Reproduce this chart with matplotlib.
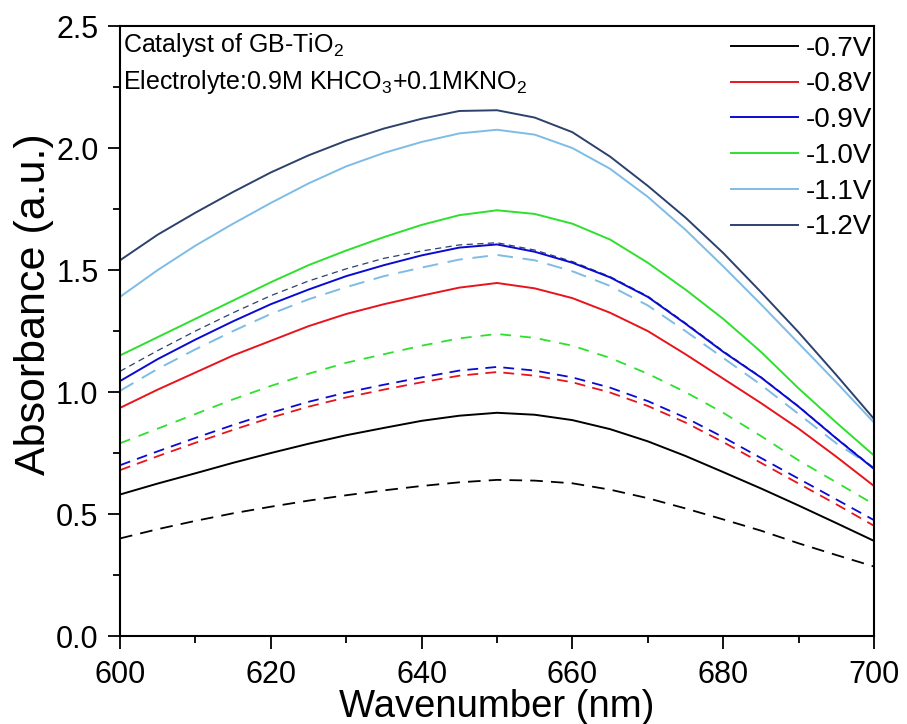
import numpy as np
import matplotlib
matplotlib.use('Agg')
import matplotlib.pyplot as plt
from matplotlib.ticker import MultipleLocator

plt.rcParams['font.family'] = ['Liberation Sans', 'DejaVu Sans']
plt.rcParams['mathtext.fontset'] = 'custom'
plt.rcParams['mathtext.rm'] = 'Liberation Sans'

# wavelength grid (nm)
wl = np.arange(600, 701, 5)

labels = ['-0.7V', '-0.8V', '-0.9V', '-1.0V', '-1.1V', '-1.2V']
colors = ['#000000', '#e8141c', '#0a0ad2', '#2ee02e', '#7ebce6', '#2c416c']

# solid spectra
solid_07 = [0.58, 0.625, 0.667, 0.71, 0.75, 0.788, 0.823, 0.853, 0.882, 0.903, 0.915,
            0.907, 0.885, 0.848, 0.798, 0.738, 0.672, 0.605, 0.535, 0.463, 0.39]
solid_08 = [0.935, 1.01, 1.08, 1.15, 1.21, 1.27, 1.32, 1.36, 1.395, 1.428, 1.447,
            1.425, 1.385, 1.325, 1.25, 1.155, 1.055, 0.955, 0.85, 0.735, 0.615]
solid_09 = [1.045, 1.135, 1.215, 1.29, 1.36, 1.42, 1.475, 1.52, 1.56, 1.592, 1.605,
            1.575, 1.53, 1.47, 1.39, 1.28, 1.165, 1.06, 0.94, 0.81, 0.685]
solid_10 = [1.15, 1.225, 1.30, 1.375, 1.45, 1.52, 1.58, 1.635, 1.685, 1.725, 1.745,
            1.73, 1.69, 1.625, 1.53, 1.42, 1.30, 1.165, 1.015, 0.875, 0.74]
solid_11 = [1.39, 1.50, 1.60, 1.69, 1.775, 1.855, 1.925, 1.98, 2.025, 2.06, 2.075,
            2.055, 2.00, 1.915, 1.80, 1.665, 1.515, 1.36, 1.20, 1.04, 0.875]
solid_12 = [1.54, 1.645, 1.735, 1.82, 1.90, 1.97, 2.03, 2.08, 2.12, 2.152, 2.155,
            2.125, 2.065, 1.965, 1.845, 1.715, 1.57, 1.41, 1.245, 1.07, 0.89]

# dashed spectra
dash_07 = [0.40, 0.438, 0.472, 0.503, 0.53, 0.555, 0.577, 0.597, 0.615, 0.63, 0.64,
           0.637, 0.626, 0.60, 0.565, 0.523, 0.478, 0.432, 0.38, 0.332, 0.285]
dash_08 = [0.68, 0.737, 0.792, 0.845, 0.895, 0.94, 0.978, 1.01, 1.04, 1.067, 1.082,
           1.067, 1.04, 0.998, 0.943, 0.875, 0.795, 0.71, 0.625, 0.54, 0.452]
dash_09 = [0.70, 0.757, 0.812, 0.865, 0.915, 0.96, 0.998, 1.03, 1.06, 1.088, 1.103,
           1.088, 1.06, 1.018, 0.963, 0.895, 0.815, 0.73, 0.645, 0.56, 0.475]
dash_10 = [0.79, 0.85, 0.91, 0.97, 1.025, 1.075, 1.12, 1.155, 1.19, 1.22, 1.238,
           1.222, 1.19, 1.14, 1.075, 1.00, 0.915, 0.82, 0.72, 0.63, 0.54]
dash_11 = [1.005, 1.095, 1.175, 1.25, 1.32, 1.38, 1.43, 1.475, 1.51, 1.543, 1.562,
           1.54, 1.495, 1.435, 1.355, 1.25, 1.14, 1.03, 0.91, 0.79, 0.69]
dash_12 = [1.085, 1.17, 1.25, 1.325, 1.395, 1.455, 1.505, 1.548, 1.578, 1.603, 1.612,
           1.582, 1.535, 1.473, 1.393, 1.283, 1.168, 1.062, 0.942, 0.812, 0.688]

solids = [solid_07, solid_08, solid_09, solid_10, solid_11, solid_12]
dashes = [dash_07, dash_08, dash_09, dash_10, dash_11, dash_12]
dash_styles = [(7, 4.5), (6, 4), (6, 4), (6, 5), (8, 5), (5, 3.5)]
dash_lw = [1.3, 1.3, 1.3, 1.3, 1.4, 0.9]

fig = plt.figure(figsize=(9.07, 7.24), dpi=100)
ax = fig.add_axes([0.1323, 0.1215, 0.8313, 0.8425])

for i in range(6):
    ax.plot(wl, dashes[i], color=colors[i], lw=dash_lw[i], dashes=dash_styles[i])
handles = []
for i in range(6):
    h, = ax.plot(wl, solids[i], color=colors[i], lw=1.4, label=labels[i])
    handles.append(h)

ax.set_xlim(600, 700)
ax.set_ylim(0, 2.5)
ax.xaxis.set_major_locator(MultipleLocator(20))
ax.xaxis.set_minor_locator(MultipleLocator(10))
ax.yaxis.set_major_locator(MultipleLocator(0.5))
ax.yaxis.set_minor_locator(MultipleLocator(0.25))
ax.tick_params(which='major', direction='out', length=9, width=1.3, labelsize=22)
ax.tick_params(which='minor', direction='out', length=5, width=1.3)
ax.tick_params(axis='x', which='major', pad=8)
ax.tick_params(axis='y', which='major', pad=6.5)
for s in ax.spines.values():
    s.set_linewidth(1.5)

ax.set_xlabel('Wavenumber (nm)', fontsize=27.5)
ax.set_ylabel('Absorbance (a.u.)', fontsize=31)
ax.xaxis.set_label_coords(0.5, -0.0865)
ax.yaxis.set_label_coords(-0.0869, 0.544)

ax.text(0.004, 0.957, r'Catalyst of GB-TiO$_2$', transform=ax.transAxes,
        fontsize=18, va='baseline', ha='left')
ax.text(0.004, 0.897, r'Electrolyte:0.9M KHCO$_3$+0.1MKNO$_2$', transform=ax.transAxes,
        fontsize=18, va='baseline', ha='left')

ax.legend(handles=handles, loc='upper right', bbox_to_anchor=(1.008, 0.997),
          frameon=False, fontsize=20, handlelength=2.4, handletextpad=0.3,
          labelspacing=0.35, borderaxespad=0, borderpad=0.28)

fig.savefig('out.png', dpi=100)
